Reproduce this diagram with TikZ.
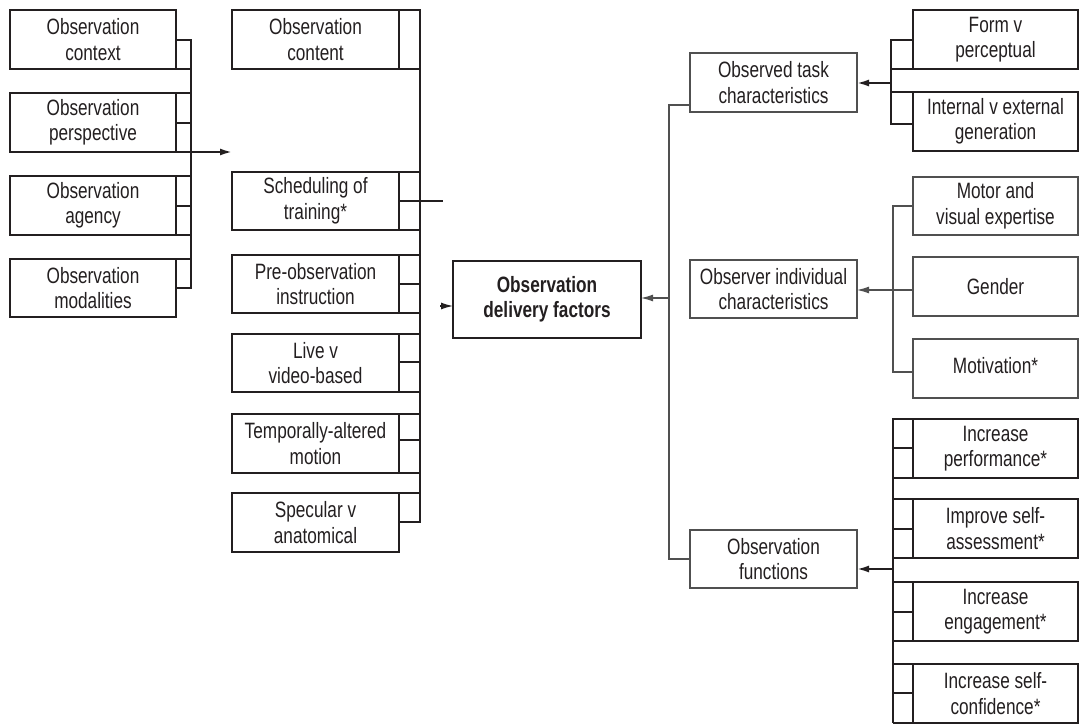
\documentclass[tikz,border=0pt]{standalone}
\usepackage{fontspec}
\setmainfont{Liberation Sans}[FakeStretch=0.775]
\usetikzlibrary{arrows.meta}
\definecolor{ink}{HTML}{231F20}
\definecolor{thin}{HTML}{505050}
\begin{document}
\begin{tikzpicture}[x=1pt,y=-1pt,
  font=\fontsize{22.2}{25.5}\selectfont,
  tbox/.style={draw=ink, line width=2pt, align=center, inner sep=0pt, outer sep=0pt, text=ink},
  nbox/.style={draw=thin, line width=1.2pt, align=center, inner sep=0pt, outer sep=0pt, text=ink},
  link/.style={draw=ink, line width=2pt, line join=miter},
  tlink/.style={draw=thin, line width=1.2pt, line join=miter},
  arr/.style={-{Latex[length=12pt,width=7pt]}}]
\useasboundingbox (0,0) rectangle (1080,725);
\fill[white] (0,0) rectangle (1080,725);

% ---------------- left column ----------------
\node[tbox, minimum width=166pt, minimum height=59pt] (ctx)    at (93,39.5)  {Observation\\context};
\node[tbox, minimum width=166pt, minimum height=59pt] (persp)  at (93,122.5) {Observation\\perspective};
\node[tbox, minimum width=166pt, minimum height=59pt] (agency) at (93,205.5) {Observation\\agency};
\node[tbox, minimum width=166pt, minimum height=58pt] (modal)  at (93,288)   {Observation\\modalities};
\draw[link] (ctx.east |- 0,40) -- (191,40) -- (191,288) -- (modal.east |- 0,288);
\foreach \y in {69,93,123,152,176,206,235,259}
  \draw[link] (176,\y) -- (191,\y);
\coordinate (lj) at (191,152);
\coordinate (lt) at (232,152);
\draw[link, arr] (lj) -- (lt);

% ---------------- middle column ----------------
\node[tbox, minimum width=167pt, minimum height=59pt] (content) at (315.5,39.5) {Observation\\content};
\node[tbox, minimum width=167pt, minimum height=58pt] (sched)   at (315.5,201)  {Scheduling of\\training*};
\node[tbox, minimum width=167pt, minimum height=58pt] (pre)     at (315.5,284)  {Pre-observation\\instruction};
\node[tbox, minimum width=167pt, minimum height=58pt] (live)    at (315.5,363)  {Live v\\video-based};
\node[tbox, minimum width=167pt, minimum height=59pt] (temp)    at (315.5,443.5){Temporally-altered\\motion};
\node[tbox, minimum width=167pt, minimum height=59pt] (spec)    at (315.5,522.5){Specular v\\anatomical};
\draw[link] (content.north east) -- (420,10) -- (420,522) -- (spec.east |- 0,522);
\foreach \y in {69,172,230,255,284,313,334,362,392,414,440,473,493}
  \draw[link] (399,\y) -- (420,\y);
\coordinate (sfree) at (443,201);
\draw[link] (sched.east) -- (sfree);

% ---------------- central ----------------
\node[draw=ink, line width=2.6pt, minimum width=188pt, minimum height=77pt, align=center,
      inner sep=0pt, outer sep=0pt, text=ink, font=\fontsize{22.2}{25.5}\selectfont\bfseries]
      (central) at (547,299.5) {Observation\\delivery factors};
\coordinate (cin) at (440,306);
\draw[link, line width=1.2pt, arr] (cin) -- (central.west |- cin);

% ---------------- right level 1 ----------------
\node[nbox, minimum width=167pt, minimum height=59pt] (task)  at (773.5,82.5) {Observed task\\characteristics};
\node[nbox, minimum width=167pt, minimum height=58pt] (indiv) at (773.5,289)  {Observer individual\\characteristics};
\node[nbox, minimum width=167pt, minimum height=58pt] (func)  at (773.5,559)  {Observation\\functions};
\coordinate (rs1) at (669,105);
\coordinate (rs2) at (669,559);
\coordinate (rj)  at (669,298);
\draw[tlink] (task.west |- rs1) -- (rs1) -- (rs2) -- (func.west);
\draw[tlink, arr] (rj) -- (central.east |- rj);

% ---------------- task bracket ----------------
\node[tbox, minimum width=165pt, minimum height=59pt] (form)   at (995.5,39.5)  {Form v\\perceptual};
\node[tbox, minimum width=165pt, minimum height=59pt] (intext) at (995.5,121.5) {Internal v external\\generation};
\draw[link] (form.west |- 0,40) -- (891,40) -- (891,124) -- (intext.west |- 0,124);
\draw[link] (891,69) -- (913,69);
\draw[link] (891,92) -- (913,92);
\coordinate (ta) at (891,83);
\draw[link, arr] (ta) -- (task.east |- ta);

% ---------------- individual ----------------
\node[nbox, minimum width=165pt, minimum height=58pt] (motor)  at (995.5,206)   {Motor and\\visual expertise};
\node[nbox, minimum width=165pt, minimum height=59pt] (gender) at (995.5,286.5) {Gender};
\node[nbox, minimum width=165pt, minimum height=59pt] (motiv)  at (995.5,368.5) {\raisebox{5.5pt}{Motivation*}};
\draw[tlink] (motor.west) -- (893,206) -- (893,372) -- (motiv.west |- 0,372);
\coordinate (ga) at (913,290);
\draw[tlink, arr] (ga) -- (indiv.east |- ga);

% ---------------- functions ----------------
\node[tbox, minimum width=165pt, minimum height=59pt] (perf)   at (995.5,448.5) {Increase\\performance*};
\node[tbox, minimum width=165pt, minimum height=59pt] (assess) at (995.5,528.5) {Improve self-\\assessment*};
\node[tbox, minimum width=165pt, minimum height=59pt] (engage) at (995.5,611.5) {Increase\\engagement*};
\node[tbox, minimum width=165pt, minimum height=59pt] (conf)   at (995.5,693.5) {Increase self-\\confidence*};
\draw[link] (893,418) -- (893,723);
\foreach \y in {419,448,478,499,529,558,582,612,641,664,693,723}
  \draw[link] (893,\y) -- (913,\y);
\coordinate (fa) at (893,569);
\draw[link, arr] (fa) -- (func.east |- fa);
\end{tikzpicture}
\end{document}
